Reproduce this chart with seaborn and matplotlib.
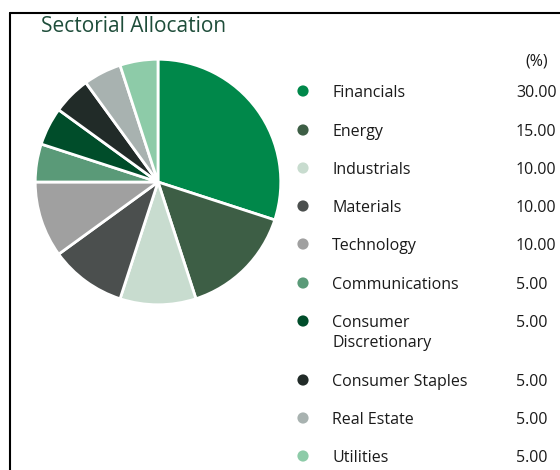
import matplotlib
matplotlib.use("Agg")
import matplotlib.pyplot as plt
import seaborn as sns

# data
sectors = ["Financials", "Energy", "Industrials", "Materials", "Technology",
           "Communications", "Consumer\nDiscretionary", "Consumer Staples",
           "Real Estate", "Utilities"]
weights = [30.00, 15.00, 10.00, 10.00, 10.00, 5.00, 5.00, 5.00, 5.00, 5.00]
colors = ["#00884A", "#3D5E45", "#C8DCCF", "#4B4F4E", "#A0A0A0",
          "#5A9A78", "#004D2A", "#212B28", "#A8B2B0", "#8DCBA8"]

sns.set_style("white")
plt.rcParams["font.family"] = ["Open Sans", "DejaVu Sans"]

W, H = 560, 470
fig = plt.figure(figsize=(W / 100, H / 100), dpi=100)

# pie
cx, cy, r = 158, 182, 124
ax = fig.add_axes([(cx - r) / W, (H - cy - r) / H, 2 * r / W, 2 * r / H])
ax.pie(weights, colors=sns.color_palette(colors), startangle=90, counterclock=False,
       wedgeprops=dict(edgecolor="white", linewidth=2))
ax.set_xlim(-1.01, 1.01)
ax.set_ylim(-1.01, 1.01)
ax.set_aspect("equal")
ax.axis("off")

# overlay in pixel coords for title, frame and legend table
ov = fig.add_axes([0, 0, 1, 1], zorder=-1)
ov.patch.set_alpha(0)

ov.plot([10, W], [13, 13], color="black", lw=1.5)
ov.plot([10, 10], [13, H], color="black", lw=1.5)
ov.text(41, 27, "Sectorial Allocation", fontsize=15, color="#1E4D3A", va="center")

row_y = [91, 130, 168, 206, 244, 283, 321, 380, 418, 456]
sns.scatterplot(x=[303] * len(row_y), y=row_y, hue=sectors, palette=colors,
                s=65, edgecolor="none", legend=False, ax=ov)
ov.set_xlim(0, W)
ov.set_ylim(H, 0)
ov.axis("off")

txt = dict(fontsize=11.5, color="#1A1A1A", va="center")
ov.text(548, 61, "(%)", ha="right", **txt)
for name, val, y in zip(sectors, weights, row_y):
    for k, line in enumerate(name.split("\n")):
        ov.text(332, y + 2 + 20 * k, line, **txt)
    ov.text(516, y + 2, f"{val:.2f}", **txt)

fig.savefig("out.png", dpi=100)
